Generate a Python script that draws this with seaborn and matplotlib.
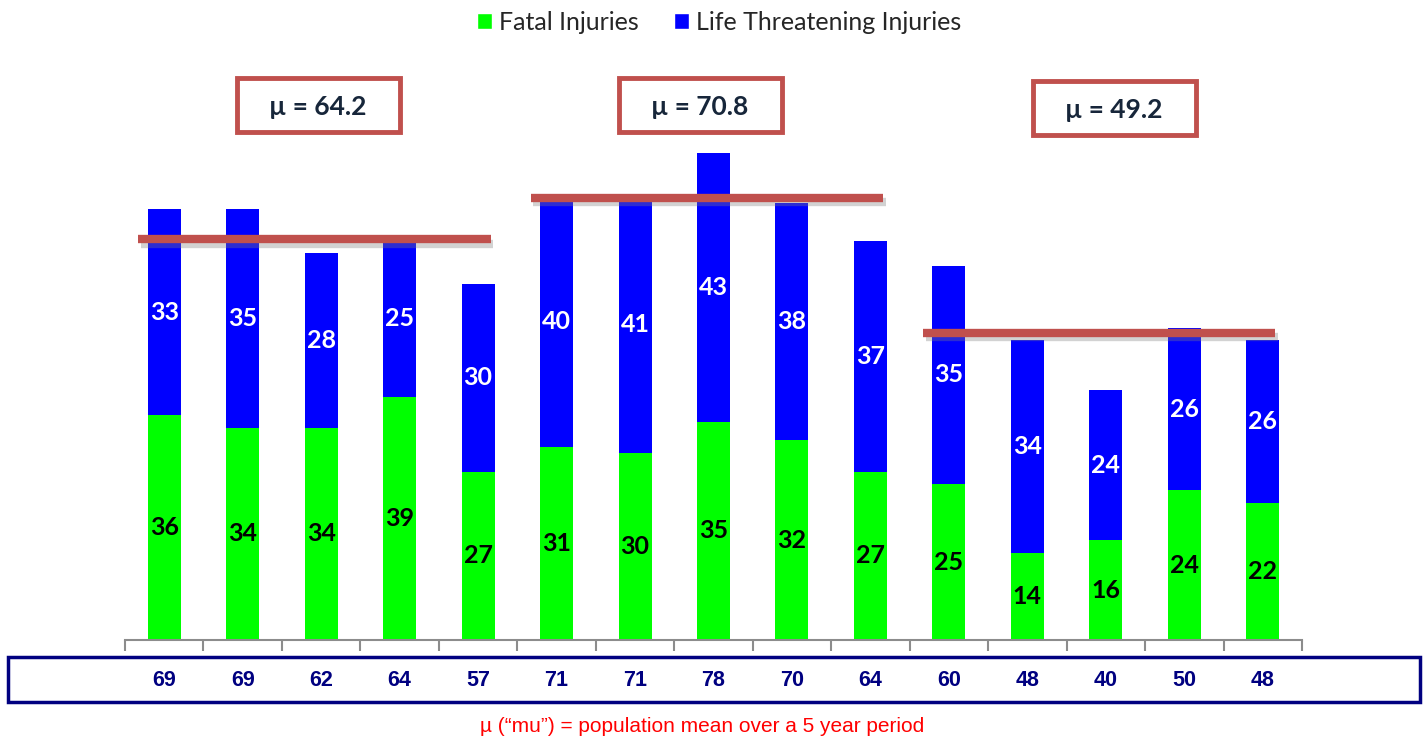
import numpy as np
import pandas as pd
import seaborn as sns
import matplotlib.pyplot as plt
import matplotlib.patheffects as pe
from matplotlib.patches import Patch, Rectangle
from matplotlib.transforms import blended_transform_factory

# data
fatal = [36, 34, 34, 39, 27, 31, 30, 35, 32, 27, 25, 14, 16, 24, 22]
life_threat = [33, 35, 28, 25, 30, 40, 41, 43, 38, 37, 35, 34, 24, 26, 26]
totals = [69, 69, 62, 64, 57, 71, 71, 78, 70, 64, 60, 48, 40, 50, 48]
group_means = [64.2, 70.8, 49.2]
group_labels = ["\u00b5 = 64.2", "\u00b5 = 70.8", "\u00b5 = 49.2"]

GREEN = "#00FF00"
BLUE = "#0000FF"
RED = "#C0504D"
NAVY = "#000080"

sns.set_theme(style="white")
plt.rcParams["font.family"] = ["Lato", "DejaVu Sans"]

df = pd.DataFrame({
    "period": [str(i) for i in range(len(fatal))],
    "fatal": fatal,
    "life": life_threat,
})
df["total"] = df["fatal"] + df["life"]

fig = plt.figure(figsize=(14.24, 7.38), dpi=100)
ax = fig.add_axes([125 / 1424, 1 - 640 / 738, (1302 - 125) / 1424, 580 / 738])

# stacked bars: total in blue, fatal drawn over it in green
sns.barplot(data=df, x="period", y="total", color=BLUE, width=0.42,
            saturation=1, ax=ax, linewidth=0)
sns.barplot(data=df, x="period", y="fatal", color=GREEN, width=0.42,
            saturation=1, ax=ax, linewidth=0)

ax.set_xlim(-0.5, len(fatal) - 0.5)
ax.set_ylim(0, 580 / 6.24)
ax.set_xlabel("")
ax.set_ylabel("")
ax.set_yticks([])
ax.set_xticks(np.arange(len(fatal) + 1) - 0.5)
ax.set_xticklabels([])
ax.tick_params(axis="x", direction="out", length=8, width=1.5, color="#8C8C8C", bottom=True)
for side in ["top", "right", "left"]:
    ax.spines[side].set_visible(False)
ax.spines["bottom"].set_color("#8C8C8C")
ax.spines["bottom"].set_linewidth(1.5)

# segment labels
for i, (f, l) in enumerate(zip(fatal, life_threat)):
    ax.text(i, f / 2, str(f), ha="center", va="center", fontsize=18,
            fontweight="bold", color="black")
    ax.text(i, f + l / 2, str(l), ha="center", va="center", fontsize=18,
            fontweight="bold", color="white")

# group mean lines
for g, m in enumerate(group_means):
    x0 = g * 5 - 0.33
    x1 = g * 5 + 4 + 0.16
    ax.plot([x0, x1], [m, m], color=RED, lw=6, solid_capstyle="butt",
            path_effects=[pe.SimpleLineShadow(offset=(2, -3), shadow_color="gray", alpha=0.35),
                          pe.Normal()])

# mean boxes
box_centers = [(318, 105), (700, 105), (1114, 108)]
for (cx, cy), lab in zip(box_centers, group_labels):
    w, h = 163, 54
    fig.patches.append(Rectangle(((cx - w / 2) / 1424, 1 - (cy + h / 2) / 738), w / 1424, h / 738,
                                 transform=fig.transFigure, fill=False,
                                 edgecolor=RED, linewidth=3.5))
    fig.text(cx / 1424, 1 - (cy + 2) / 738, lab, ha="center", va="center",
             fontsize=19, fontweight="bold", color="#17263A")

# totals row in a navy box
fig.patches.append(Rectangle((8 / 1424, 1 - 702 / 738), 1412 / 1424, 45 / 738,
                             transform=fig.transFigure, fill=False,
                             edgecolor=NAVY, linewidth=2.5))
trans = blended_transform_factory(ax.transData, fig.transFigure)
for i, t in enumerate(totals):
    ax.text(i, 1 - 680 / 738, str(t), transform=trans, ha="center", va="center",
            fontsize=15.5, fontweight="bold", color=NAVY,
            family=["Liberation Sans", "DejaVu Sans"])

# legend
handles = [Patch(facecolor=GREEN, label="Fatal Injuries"),
           Patch(facecolor=BLUE, label="Life Threatening Injuries")]
fig.legend(handles=handles, loc="center", bbox_to_anchor=(0.505, 1 - 22 / 738), ncol=2,
           frameon=False, fontsize=18, handlelength=0.6, handleheight=0.6,
           handletextpad=0.3, columnspacing=1.4)

fig.text(0.493, 1 - 727 / 738, "\u00b5 (\u201cmu\u201d) = population mean over a 5 year period",
         ha="center", va="center", fontsize=15, color="#FF0000",
         family=["Liberation Sans", "DejaVu Sans"])

fig.savefig("out.png", dpi=100)
